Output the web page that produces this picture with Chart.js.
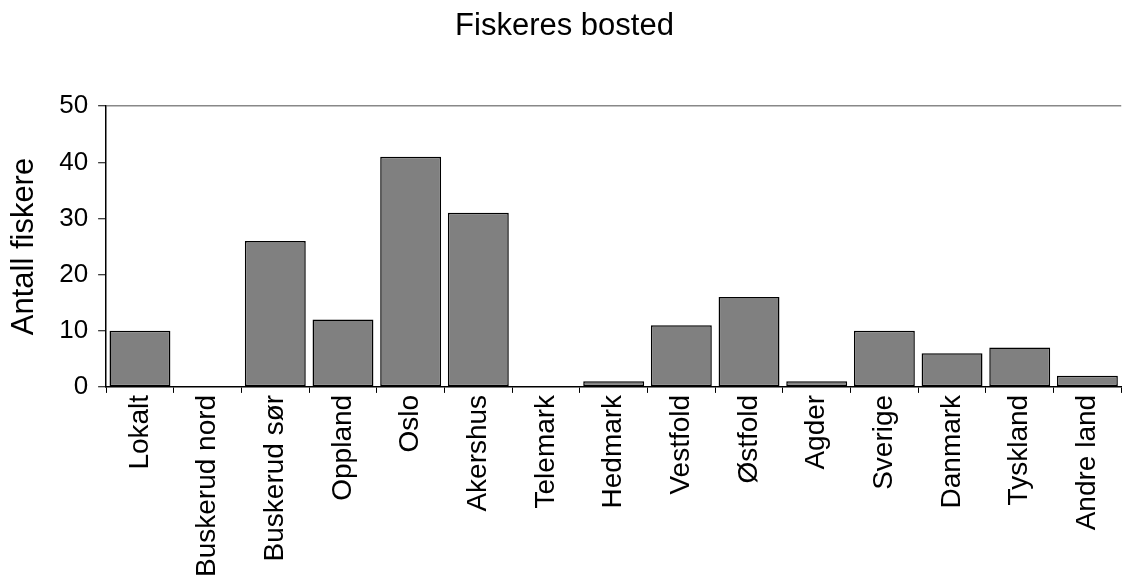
<!DOCTYPE html>
<html>
<head>
<meta charset="utf-8">
<script src="https://cdn.jsdelivr.net/npm/chart.js@4/dist/chart.umd.min.js"></script>
<style>
  html, body { margin: 0; padding: 0; background: #fff; }
  #wrap { width: 1123px; height: 579px; }
</style>
</head>
<body>
<div id="wrap"><canvas id="chart" width="1123" height="579"></canvas></div>
<script>
const categories = ['Lokalt', 'Buskerud nord', 'Buskerud sør', 'Oppland', 'Oslo', 'Akershus',
  'Telemark', 'Hedmark', 'Vestfold', 'Østfold', 'Agder', 'Sverige', 'Danmark', 'Tyskland', 'Andre land'];
const fishers = [10, 0, 26, 12, 41, 31, 0, 1, 11, 16, 1, 10, 6, 7, 2];
const yTicks = [0, 10, 20, 30, 40, 50];

const font = 'Liberation Sans, Arial, sans-serif';

new Chart(document.getElementById('chart').getContext('2d'), {
  type: 'bar',
  data: {
    labels: categories,
    datasets: [{
      label: 'Antall fiskere',
      data: fishers,
      backgroundColor: '#808080',
      borderColor: '#000',
      borderWidth: 1.5,
      borderSkipped: false,
      categoryPercentage: 1,
      barPercentage: 0.9,
    }]
  },
  options: {
    responsive: false,
    animation: false,
    layout: { padding: { left: 6, right: 0, top: 0, bottom: 0 } },
    plugins: {
      legend: { display: false },
      tooltip: { enabled: false },
      title: {
        display: true,
        text: 'Fiskeres bosted',
        color: '#000',
        font: { family: font, size: 31, weight: 'normal' },
        padding: { top: 8, bottom: 61 }
      }
    },
    scales: {
      x: {
        offset: true,
        grid: {
          offset: true,
          drawOnChartArea: false,
          tickLength: 6,
          tickColor: '#000',
          tickWidth: 1
        },
        border: { display: true, color: '#000', width: 1.5 },
        ticks: {
          color: '#000',
          font: { family: font, size: 28 },
          minRotation: 90,
          maxRotation: 90,
          padding: 2,
          autoSkip: false
        }
      },
      y: {
        min: 0,
        max: 50,
        afterBuildTicks: axis => { axis.ticks = yTicks.map(v => ({ value: v })); },
        grid: {
          color: ctx => (ctx.tick && ctx.tick.value === 50) ? '#888' : 'rgba(0,0,0,0)',
          lineWidth: 1.5,
          tickLength: 8,
          tickColor: '#000',
          tickWidth: 1
        },
        border: { display: true, color: '#000', width: 1.5 },
        ticks: {
          color: '#000',
          font: { family: font, size: 26 },
          padding: 10
        },
        title: {
          display: true,
          text: 'Antall fiskere',
          color: '#000',
          font: { family: font, size: 31 },
          padding: { top: 0, bottom: 6 }
        }
      }
    }
  }
});
</script>
</body>
</html>
